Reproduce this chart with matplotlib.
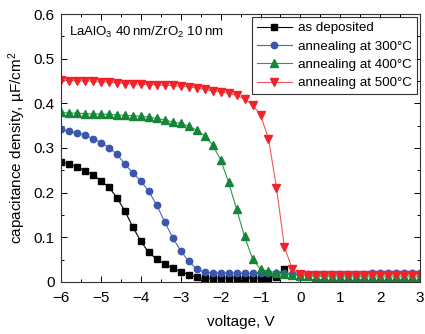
import matplotlib
matplotlib.use("Agg")
import matplotlib.pyplot as plt
from matplotlib.ticker import MultipleLocator

plt.rcParams['font.family'] = ['Liberation Sans', 'DejaVu Sans']
plt.rcParams['mathtext.fontset'] = 'custom'
plt.rcParams['mathtext.rm'] = 'Liberation Sans'
plt.rcParams['mathtext.it'] = 'Liberation Sans:italic'
plt.rcParams['mathtext.bf'] = 'Liberation Sans:bold'

voltage = [-6.0, -5.8, -5.6, -5.4, -5.2, -5.0, -4.8, -4.6, -4.4, -4.2,
           -4.0, -3.8, -3.6, -3.4, -3.2, -3.0, -2.8, -2.6, -2.4, -2.2,
           -2.0, -1.8, -1.6, -1.4, -1.2, -1.0, -0.8, -0.6, -0.4, -0.2,
           0.0, 0.2, 0.4, 0.6, 0.8, 1.0, 1.2, 1.4, 1.6, 1.8,
           2.0, 2.2, 2.4, 2.6, 2.8, 3.0]

as_deposited = [0.269, 0.264, 0.258, 0.249, 0.240, 0.226, 0.212, 0.189, 0.159, 0.123,
                0.091, 0.066, 0.051, 0.040, 0.031, 0.023, 0.016, 0.010, 0.008, 0.008,
                0.008, 0.008, 0.008, 0.008, 0.008, 0.008, 0.009, 0.012, 0.030]

anneal_300 = [0.342, 0.337, 0.334, 0.329, 0.321, 0.312, 0.301, 0.286, 0.264, 0.244,
              0.226, 0.203, 0.172, 0.134, 0.099, 0.070, 0.046, 0.029, 0.022, 0.020,
              0.020, 0.020, 0.019, 0.019, 0.019, 0.019, 0.019, 0.019, 0.019, 0.018,
              0.018, 0.018, 0.018, 0.018, 0.018, 0.018, 0.018, 0.018, 0.018, 0.019,
              0.019, 0.019, 0.019, 0.019, 0.019, 0.019]

anneal_400 = [0.380, 0.378, 0.378, 0.377, 0.376, 0.376, 0.375, 0.374, 0.373, 0.372,
              0.371, 0.369, 0.366, 0.363, 0.358, 0.355, 0.349, 0.340, 0.327, 0.307,
              0.274, 0.223, 0.163, 0.102, 0.052, 0.028, 0.024, 0.021, 0.018, 0.016,
              0.014, 0.013, 0.012, 0.012, 0.011, 0.011, 0.011, 0.011, 0.011, 0.011,
              0.011, 0.011, 0.011, 0.011, 0.011, 0.011]

anneal_500 = [0.452, 0.451, 0.450, 0.450, 0.449, 0.448, 0.447, 0.446, 0.444, 0.443,
              0.443, 0.442, 0.441, 0.440, 0.440, 0.438, 0.437, 0.434, 0.431, 0.428,
              0.425, 0.423, 0.418, 0.409, 0.397, 0.373, 0.321, 0.211, 0.078, 0.028,
              0.017, 0.015, 0.015, 0.015, 0.015, 0.015, 0.015, 0.015, 0.015, 0.015,
              0.015, 0.015, 0.015, 0.015, 0.015, 0.015]

labels = ['as deposited', 'annealing at 300\u00b0C', 'annealing at 400\u00b0C', 'annealing at 500\u00b0C']
xtick_vals = [-6, -5, -4, -3, -2, -1, 0, 1, 2, 3]
xtick_text = ['\u22126', '\u22125', '\u22124', '\u22123', '\u22122', '\u22121', '0', '1', '2', '3']
ytick_vals = [0, 0.1, 0.2, 0.3, 0.4, 0.5, 0.6]
ytick_text = ['0', '0.1', '0.2', '0.3', '0.4', '0.5', '0.6']

fig = plt.figure(figsize=(4.25, 3.34), dpi=100)
ax = fig.add_axes([0.1435, 0.156, 0.9885 - 0.1435, 0.958 - 0.156])

ax.plot(voltage[:len(as_deposited)], as_deposited, color='black', lw=0.8,
        marker='s', ms=4.2, mec='black', mfc='black', label=labels[0])
ax.plot(voltage, anneal_300, color='#4a66b5', lw=0.8,
        marker='o', ms=4.6, mec='#3a56ad', mfc='#3a56ad', label=labels[1])
ax.plot(voltage, anneal_400, color='#2a9a50', lw=0.8,
        marker='^', ms=5.5, mec='#15853a', mfc='#15853a', label=labels[2])
ax.plot(voltage, anneal_500, color='#f25560', lw=0.8,
        marker='v', ms=5.5, mec='#f0222a', mfc='#f0222a', label=labels[3])

ax.set_xlim(-6, 3)
ax.set_ylim(0, 0.6)
ax.set_xticks(xtick_vals)
ax.set_xticklabels(xtick_text)
ax.set_yticks(ytick_vals)
ax.set_yticklabels(ytick_text)
ax.xaxis.set_minor_locator(MultipleLocator(0.5))
ax.yaxis.set_minor_locator(MultipleLocator(0.05))
ax.tick_params(which='both', direction='in', top=True, right=True, labelsize=11, width=0.7)
ax.tick_params(which='major', length=4)
ax.tick_params(which='minor', length=2.5)
ax.tick_params(axis='x', which='major', pad=6.5)
ax.tick_params(axis='y', which='major', pad=4.5)
for s in ax.spines.values():
    s.set_linewidth(0.8)
    s.set_color('#333333')

ax.set_xlabel('voltage, V', fontsize=11, labelpad=7.5)
ax.set_ylabel('capacitance density, \u00b5F/cm$^2$', fontsize=11, labelpad=4)

ax.text(0.022, 0.93, 'LaAlO$_3$ 40\u2009nm/ZrO$_2$ 10\u2009nm', transform=ax.transAxes,
        fontsize=9.5, ha='left', va='center')

leg = ax.legend(loc='upper right', fontsize=9.6, frameon=True, fancybox=False,
                edgecolor='black', borderpad=0.35, labelspacing=0.45, handlelength=2.6,
                handletextpad=0.5, borderaxespad=0.25)
leg.get_frame().set_linewidth(0.8)

fig.savefig('out.png', dpi=100)
